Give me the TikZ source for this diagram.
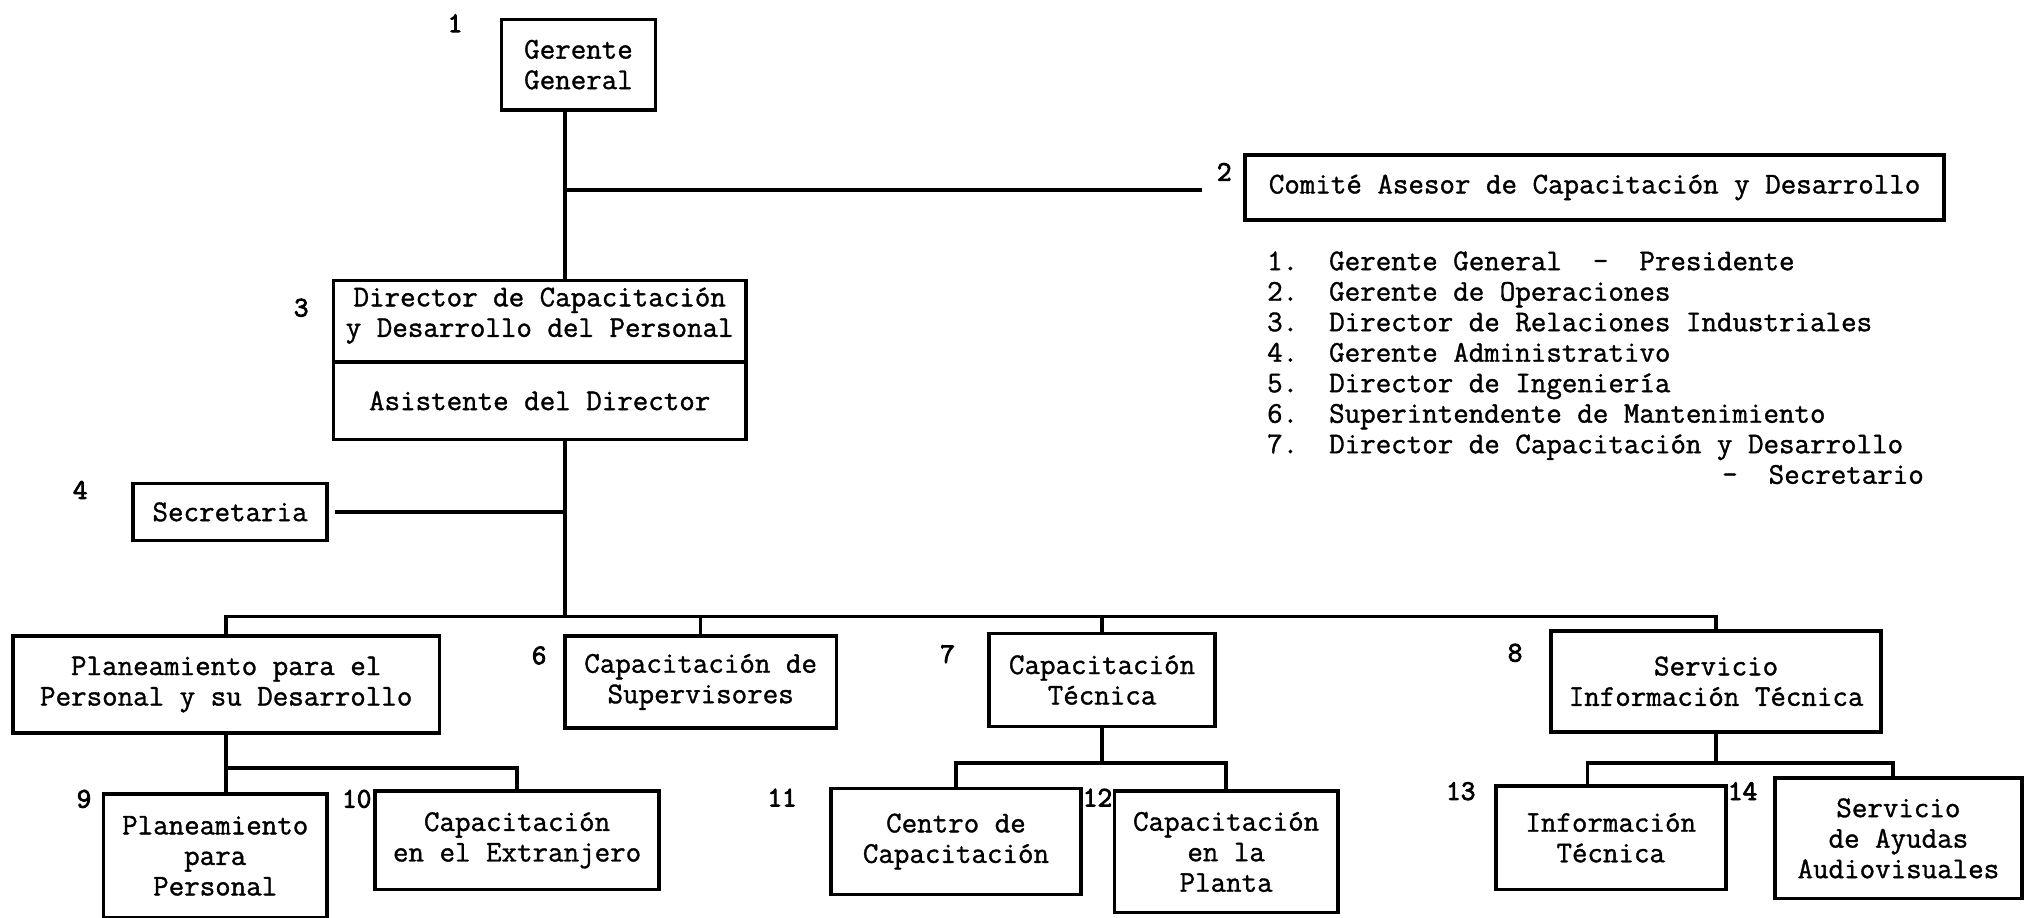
\documentclass[tikz,border=0pt]{standalone}
\usepackage{fontspec}
\newfontfamily\typefont{Latin Modern Mono}[FakeBold=1.2]
\newfontfamily\digitfont{Latin Modern Mono}[FakeBold=3]
\begin{document}
\begin{tikzpicture}[x=1pt,y=-1pt,
  box/.style={draw, line width=2.8pt, align=center, inner sep=0pt,
    font=\typefont\fontsize{23.3}{23.6}\selectfont},
  num/.style={inner sep=0pt, font=\digitfont\fontsize{22}{22}\selectfont},
  listline/.style={anchor=base west, inner sep=0pt,
    font=\typefont\fontsize{23.3}{23.6}\selectfont},
  wire/.style={line width=2.8pt}]
\useasboundingbox[fill=white] (0,0) rectangle (1568,710);

% top level
\node[box, minimum width=119, minimum height=70] (g) at (447.5,50) {Gerente\\General};
\node[box, minimum width=541, minimum height=50] (com) at (1233.5,145)
  {Comité Asesor de Capacitación y Desarrollo};
\node[box, minimum width=319, minimum height=63, text depth=14pt] (dirA) at (417.5,248.5)
  {Director de Capacitación\\y Desarrollo del Personal};
\node[box, minimum width=319, minimum height=60] (dirB) at (417.5,310)
  {Asistente del Director};
\node[box, minimum width=150, minimum height=44] (sec) at (178,396) {Secretaria};

% second level
\node[box, minimum width=330, minimum height=75] (b5) at (175,529.5)
  {Planeamiento para el\\Personal y su Desarrollo};
\node[box, minimum width=210, minimum height=71] (b6) at (542,527.5)
  {Capacitación de\\Supervisores};
\node[box, minimum width=175, minimum height=72] (b7) at (852.5,526)
  {Capacitación\\Técnica};
\node[box, minimum width=255, minimum height=78] (b8) at (1327.5,527)
  {Servicio\\Información Técnica};

% third level
\node[box, minimum width=173, minimum height=96] (b9) at (166.5,662)
  {Planeamiento\\para\\Personal};
\node[box, minimum width=220, minimum height=76] (b10) at (400,650)
  {Capacitación\\en el Extranjero};
\node[box, minimum width=193, minimum height=82] (b11) at (739.5,651)
  {Centro de\\Capacitación};
\node[box, minimum width=173, minimum height=94] (b12) at (948.5,659)
  {Capacitación\\en la\\Planta};
\node[box, minimum width=178, minimum height=80] (b13) at (1246,648)
  {Información\\Técnica};
\node[box, minimum width=191, minimum height=93] (b14) at (1468.5,648.5)
  {Servicio\\de Ayudas\\Audiovisuales};

% reference numbers
\node[num] (l1) at (352,18) {1};
\node[num] (l2) at (947,133) {2};
\node[num] (l3) at (233,238) {3};
\node[num] (l4) at (62,379) {4};
\node[num] (l6) at (417,507) {6};
\node[num] (l7) at (733,506) {7};
\node[num] (l8) at (1172,505) {8};
\node[num] (l9) at (65,618) {9};
\node[num] (l10) at (276,618) {10};
\node[num] (l11) at (605,617) {11};
\node[num] (l12) at (849,617) {12};
\node[num] (l13) at (1130,612) {13};
\node[num] (l14) at (1348,612) {14};

% committee members
\node[listline] (m1) at (980,209.0) {1.\ \ Gerente General\ \ -\ \ Presidente};
\node[listline] (m2) at (980,232.6) {2.\ \ Gerente de Operaciones};
\node[listline] (m3) at (980,256.2) {3.\ \ Director de Relaciones Industriales};
\node[listline] (m4) at (980,279.8) {4.\ \ Gerente Administrativo};
\node[listline] (m5) at (980,303.4) {5.\ \ Director de Ingeniería};
\node[listline] (m6) at (980,327.0) {6.\ \ Superintendente de Mantenimiento};
\node[listline] (m7) at (980,350.6) {7.\ \ Director de Capacitación y Desarrollo};
\node[listline] (m8) at (1332,374.2) {-\ \ Secretario};

% connectors
\coordinate (s1) at (437,0);
\coordinate (cm) at (0,147);
\coordinate (bus) at (0,477);
\coordinate (c5) at (0,594);
\coordinate (c7) at (0,590);
\coordinate (c8) at (0,590);

\draw[wire] (s1 |- g.south) -- (s1 |- dirA.north);
\draw[wire] (s1 |- cm) -- ([xshift=-32]com.west |- cm);
\draw[wire] (s1 |- dirB.south) -- (s1 |- bus);
\draw[wire] ([xshift=5]sec.east) -- (s1 |- sec.east);

\draw[wire] (b5.north) -- (b5.north |- bus) -- (b8.north |- bus) -- (b8.north);
\draw[wire] (b6.north) -- (b6.north |- bus);
\draw[wire] (b7.north) -- (b7.north |- bus);

\draw[wire] (b5.south) -- (b5.south |- c5);
\draw[wire] (b5.south |- b9.north) -- (b5.south |- c5) -- (b10.north |- c5) -- (b10.north);

\draw[wire] (b7.south) -- (b7.south |- c7);
\draw[wire] (b11.north) -- (b11.north |- c7) -- (b12.north |- c7) -- (b12.north);

\draw[wire] (b8.south) -- (b8.south |- c8);
\coordinate (d13) at ([xshift=-18]b13.north);
\coordinate (d14) at ([xshift=-4]b14.north);
\draw[wire] (d13) -- (d13 |- c8) -- (d14 |- c8) -- (d14);
\end{tikzpicture}
\end{document}
